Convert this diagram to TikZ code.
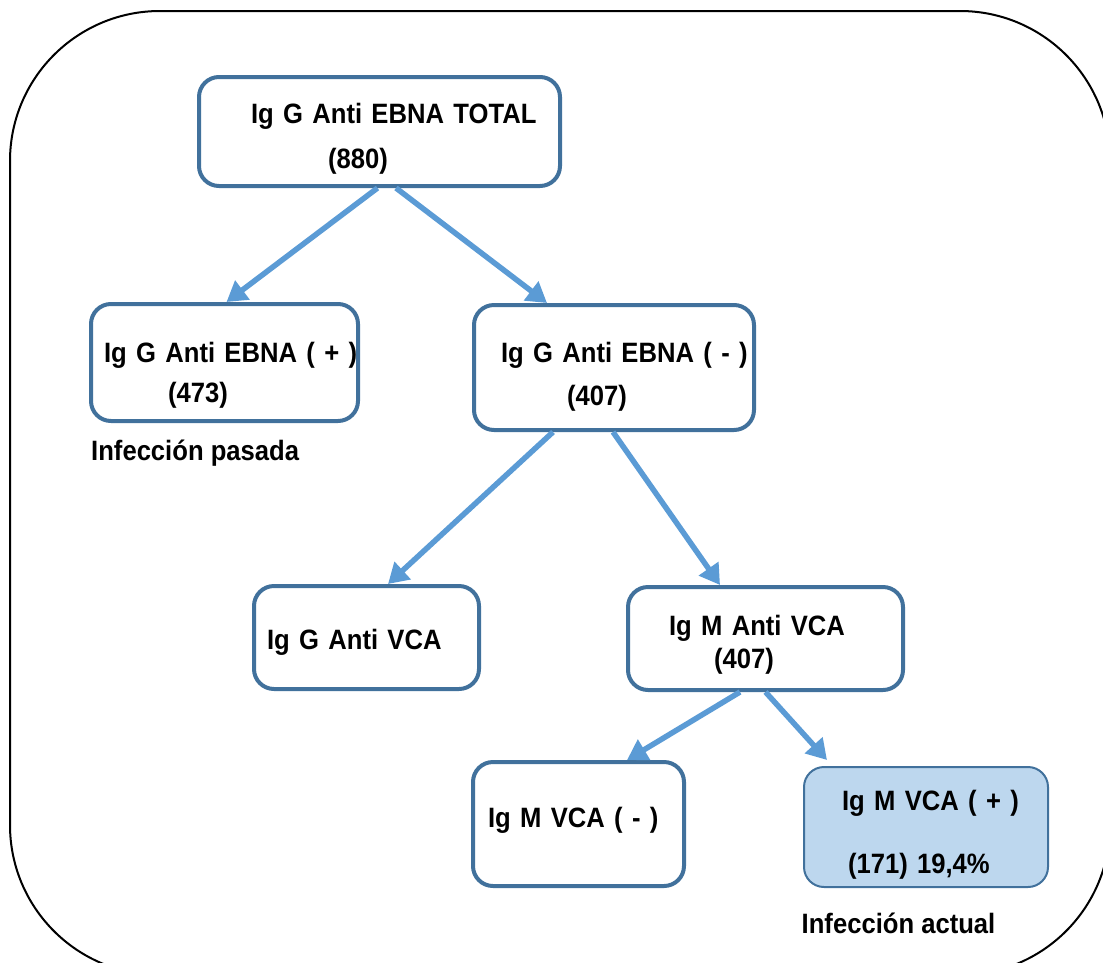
\documentclass[tikz,border=0pt]{standalone}
\usepackage{fontspec}
\newfontfamily\boxfont{Liberation Sans}[FakeStretch=0.915]
\usetikzlibrary{arrows.meta, positioning}

\definecolor{boxline}{HTML}{41719C}
\definecolor{arrowblue}{HTML}{5B9BD5}
\definecolor{posfill}{HTML}{BDD7EE}

\begin{document}
\begin{tikzpicture}[x=1pt,y=-1pt,font=\boxfont\bfseries\fontsize{28}{33}\selectfont]
	\tikzset{box/.style={draw=boxline,line width=4pt,rounded corners=20pt,fill=white,inner sep=0pt,align=left}}
	\tikzset{lbl/.style={inner sep=0pt,anchor=base west}}
	\tikzset{arr/.style={color=arrowblue,line width=5.5pt,-{Triangle[length=20pt,width=23pt]}}}
	\useasboundingbox (0,0) rectangle (1103,962);
	\draw[line width=2pt,rounded corners=150pt] (10,11) rectangle (1110,975);
	\node[box,text width=361pt,minimum height=109pt,text height=0pt,text depth=17pt] (total) at (379.5,131.5) {\hspace*{52pt}Ig G Anti EBNA TOTAL\\[12pt]\hspace*{129pt}(880)};
	\node[box,text width=267pt,minimum height=117pt,text height=0pt,text depth=1pt] (pos) [below of=total,node distance=231pt,xshift=-155pt] {\hspace*{13pt}Ig G Anti EBNA ( + )\\[7pt]\hspace*{77pt}(473)};
	\node[box,text width=280pt,minimum height=125pt,text height=0pt,text depth=11pt] (neg) [below of=total,node distance=236pt,xshift=234.5pt] {\hspace*{27pt}Ig G Anti EBNA ( - )\\[10pt]\hspace*{93pt}(407)};
	\node[box,text width=225pt,minimum height=103pt,text height=23pt,text depth=0pt] (igg) [below of=neg,node distance=270pt,xshift=-247.5pt] {\hspace*{13pt}Ig G Anti VCA};
	\node[box,text width=275pt,minimum height=103pt,text height=0pt,text depth=7pt] (igm) [below of=neg,node distance=271pt,xshift=151.5pt] {\hspace*{41pt}Ig M Anti VCA\\\hspace*{86pt}(407)};
	\node[box,text width=211pt,minimum height=124pt,text height=6pt,text depth=0pt] (mneg) [below of=igm,node distance=185.5pt,xshift=-187pt] {\hspace*{15pt}Ig M VCA ( - )};
	\node[box,fill=posfill,line width=2pt,text width=244pt,minimum height=120pt,text height=0pt,text depth=34pt] (mpos) [below of=igm,node distance=188.5pt,xshift=160.5pt] {\hspace*{38pt}Ig M VCA ( + )\\[30pt]\hspace*{44pt}(171) 19,4\%};
	\node[lbl] (pasada) [below right=37pt and 2pt of pos.south west,anchor=base west] {Infección pasada};
	\node[lbl] (actual) [below right=45pt and -1.5pt of mpos.south west,anchor=base west] {Infección actual};
	\path[arr]
		([xshift=-2pt]total.south)
			edge ([xshift=2pt]pos.north)
		([xshift=16.5pt]total.south)
			edge ([xshift=-67pt]neg.north)
		([xshift=-61pt]neg.south)
			edge ([xshift=21.5pt]igg.north)
		([xshift=-1pt]neg.south)
			edge ([xshift=-45.5pt]igm.north)
		([xshift=-25.5pt]igm.south)
			edge ([xshift=48.5pt]mneg.north)
		(igm.south)
			edge ([xshift=-99pt,yshift=6pt]mpos.north);
\end{tikzpicture}
\end{document}
